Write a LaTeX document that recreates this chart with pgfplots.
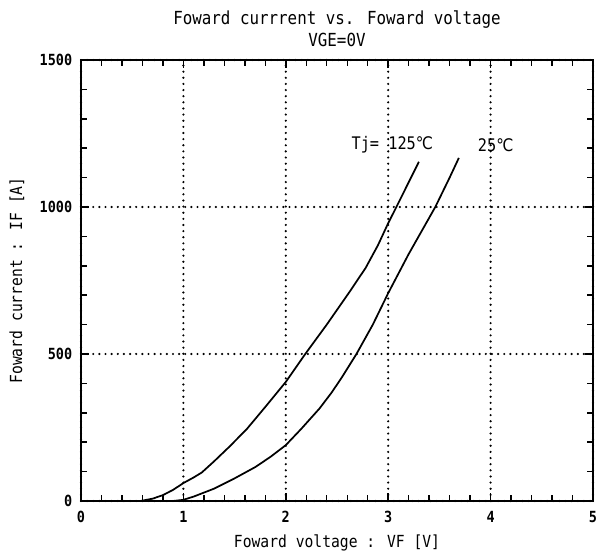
\documentclass[border=0pt]{standalone}
\usepackage{pgfplots}
\pgfplotsset{compat=1.18}
\usetikzlibrary{calc}
\usepackage{fontspec}
\setmainfont[FakeStretch=0.88]{DejaVu Sans Mono}
\newfontfamily\sym[FakeStretch=0.88]{DejaVu Sans}
\begin{document}
\begin{tikzpicture}
\begin{axis}[
  name=ax,
  scale only axis,
  width=384pt, height=330.75pt,
  xmin=0, xmax=5, ymin=0, ymax=1500,
  xtick={0,1,2,3,4,5}, ytick={0,500,1000,1500},
  minor x tick num=4, minor y tick num=4,
  tick align=inside,
  major tick length=6pt, minor tick length=4.5pt,
  grid=major,
  major grid style={black, line width=1.8pt, dash pattern=on 0pt off 4.6pt, line cap=round},
  axis line style={line width=1.5pt},
  every tick/.style={black, line width=1.1pt},
  /pgf/number format/assume math mode=true,
  /pgf/number format/1000 sep={},
  tick label style={font=\fontsize{11.5}{13}\selectfont\bfseries},
  xticklabel style={anchor=center, yshift=-12pt},
  yticklabel style={anchor=east, inner sep=0pt, xshift=-6.4pt},
  label style={font=\fontsize{12.5}{14}\selectfont},
  xlabel style={at={(axis description cs:0.5,0)}, anchor=center, yshift=-31.5pt},
  ylabel style={at={($(axis description cs:0,0.5)+(-48pt,0)$)}, anchor=center},
  title style={font=\fontsize{13.5}{16.5}\selectfont, align=center, at={(axis description cs:0.5,1)}, anchor=center, yshift=17.25pt},
  title={Foward currrent vs. Foward voltage\\VGE=0V},
  xlabel={Foward voltage : VF [V]},
  ylabel={Foward current : IF [A]},
  clip=false,
]
\addplot[black, line width=1.3pt] coordinates {
 (0.58,0) (0.7,8) (0.8,20) (0.9,38) (1.0,61) (1.1,80) (1.18,97)
 (1.3,135) (1.45,185) (1.62,245) (1.8,320) (2.0,405) (2.19,500)
 (2.4,600) (2.62,710) (2.78,793) (2.9,870) (3.0,945) (3.08,1000)
 (3.18,1070) (3.30,1154)
};
\addplot[black, line width=1.3pt] coordinates {
 (0.9,0) (1.0,4) (1.1,15) (1.3,42) (1.5,77) (1.7,115) (1.85,150) (2.0,190)
 (2.15,245) (2.33,315) (2.45,370) (2.55,422) (2.69,500) (2.85,600) (3.0,707)
 (3.2,840) (3.46,1000) (3.6,1100) (3.69,1167)
};
\node[font=\fontsize{13}{14}\selectfont] at (axis cs:3.04,1211) {Tj= 125{\sym ℃}};
\node[font=\fontsize{13}{14}\selectfont] at (axis cs:4.05,1211) {25{\sym ℃}};
\end{axis}
\pgfresetboundingbox
\path[use as bounding box] ($(ax.south west)+(-60.75pt,-43.5pt)$) rectangle ($(ax.north east)+(4.5pt,45pt)$);
\end{tikzpicture}
\end{document}
